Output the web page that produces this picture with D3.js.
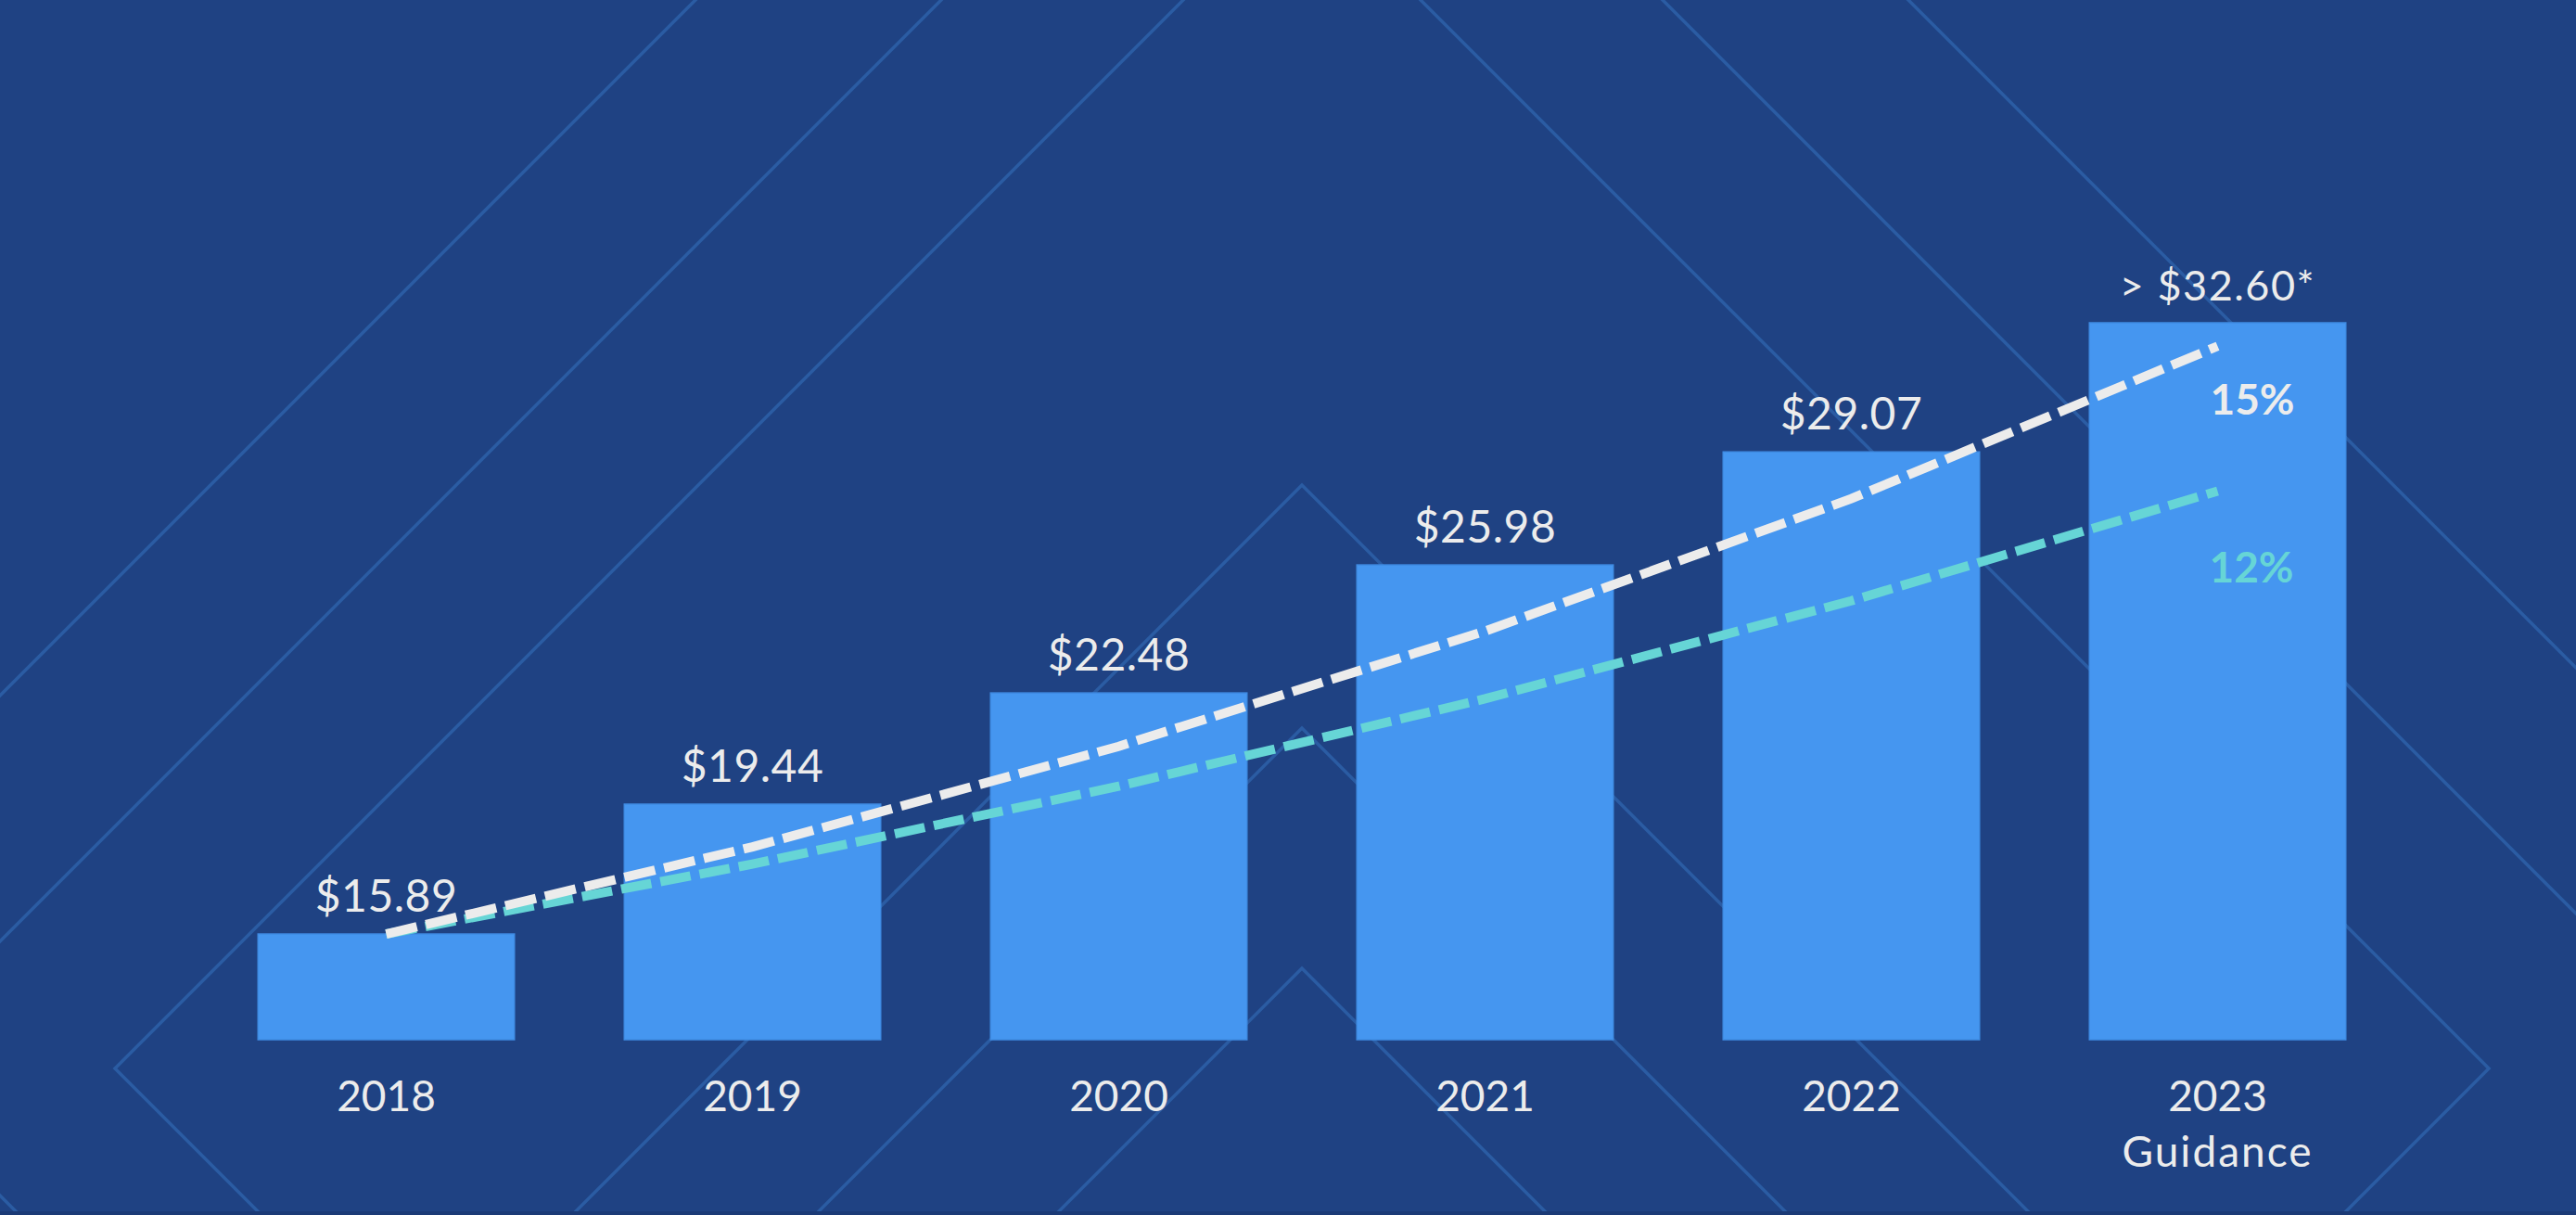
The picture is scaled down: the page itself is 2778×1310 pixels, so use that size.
<!DOCTYPE html>
<html>
<head>
<meta charset="utf-8">
<script src="https://cdn.jsdelivr.net/npm/d3@7"></script>
<style>
  body { margin: 0; background: #1f4283; }
  text { font-family: Lato, "Open Sans", sans-serif; }
</style>
</head>
<body>
<svg id="chart"></svg>
<script>
// data
const years = ["2018", "2019", "2020", "2021", "2022", "2023"];
const yearSub = ["", "", "", "", "", "Guidance"];
const eps = [15.89, 19.44, 22.48, 25.98, 29.07, 32.60];
const epsLabels = ["$15.89", "$19.44", "$22.48", "$25.98", "$29.07", "> $32.60*"];
const trend15 = [15.89, 18.27, 21.02, 24.17, 27.79, 31.96];
const trend12 = [15.89, 17.80, 19.93, 22.32, 25.00, 28.00];
const trendNames = ["15%", "12%"];

const width = 2778;
const height = 1310;
const bottom = 1121;

const svg = d3.select("#chart")
  .attr("width", width)
  .attr("height", height);

svg.append("rect")
  .attr("width", width)
  .attr("height", height)
  .attr("fill", "#1f4283");

// background decoration: diamonds and chevrons
const deco = svg.append("g")
  .attr("fill", "none")
  .attr("stroke", "#2b5ca3")
  .attr("stroke-width", 3.5);

const cx = 1404, cy = 1152;
[1280, 1541, 1806].forEach(r => {
  deco.append("path")
    .attr("d", `M${cx - r},${cy} L${cx},${cy - r} L${cx + r},${cy} L${cx},${cy + r} Z`);
});
[523, 785, 1044].forEach(py => {
  const d = height + 10 - py;
  deco.append("path")
    .attr("d", `M${cx - d},${py + d} L${cx},${py} L${cx + d},${py + d}`);
});

const xScale = d3.scaleBand()
  .domain(years)
  .range([219, 2589])
  .paddingInner(0.3)
  .paddingOuter(0.15);

const yScale = d3.scaleLinear()
  .domain([13, 32.6])
  .range([bottom, 348]);

const cxOf = i => xScale(years[i]) + xScale.bandwidth() / 2;

svg.selectAll("rect.bar")
  .data(eps)
  .enter()
  .append("rect")
  .attr("class", "bar")
  .attr("x", (d, i) => xScale(years[i]))
  .attr("y", d => yScale(d))
  .attr("width", xScale.bandwidth())
  .attr("height", d => bottom - yScale(d))
  .attr("fill", "#4596f0")
  .attr("stroke", "#3f8ce4")
  .attr("stroke-width", 1.5);

// value labels
svg.selectAll("text.val")
  .data(eps)
  .enter()
  .append("text")
  .attr("class", "val")
  .attr("x", (d, i) => cxOf(i))
  .attr("y", d => yScale(d) - 24)
  .attr("text-anchor", "middle")
  .attr("fill", "#ececec")
  .attr("font-size", (d, i) => i === eps.length - 1 ? 45 : 48)
  .attr("letter-spacing", (d, i) => i === eps.length - 1 ? 1.5 : 0.5)
  .text((d, i) => epsLabels[i]);

// year labels
const yl = svg.selectAll("text.year")
  .data(years)
  .enter()
  .append("text")
  .attr("class", "year")
  .attr("text-anchor", "middle")
  .attr("fill", "#ececec")
  .attr("font-size", 46);
yl.append("tspan")
  .attr("x", (d, i) => cxOf(i))
  .attr("y", 1198)
  .text(d => d);
yl.append("tspan")
  .attr("x", (d, i) => cxOf(i))
  .attr("y", 1258)
  .attr("letter-spacing", 2)
  .text((d, i) => yearSub[i]);

// trend lines
const line = d3.line()
  .x((d, i) => cxOf(i))
  .y(d => yScale(d));

svg.append("path")
  .datum(trend12)
  .attr("d", line)
  .attr("fill", "none")
  .attr("stroke", "#66d5d6")
  .attr("stroke-width", 10)
  .attr("stroke-dasharray", "33 10");

svg.append("path")
  .datum(trend15)
  .attr("d", line)
  .attr("fill", "none")
  .attr("stroke", "#ececec")
  .attr("stroke-width", 10)
  .attr("stroke-dasharray", "34 10");

const last = years.length - 1;
svg.append("text")
  .attr("x", cxOf(last) - 8)
  .attr("y", yScale(trend15[last]) + 74)
  .attr("fill", "#ececec")
  .attr("font-size", 46)
  .attr("font-weight", "bold")
  .text(trendNames[0]);

svg.append("text")
  .attr("x", cxOf(last) - 9)
  .attr("y", yScale(trend12[last]) + 99)
  .attr("fill", "#66d5d6")
  .attr("font-size", 46)
  .attr("font-weight", "bold")
  .text(trendNames[1]);

svg.append("rect")
  .attr("y", height - 4)
  .attr("width", width)
  .attr("height", 4)
  .attr("fill", "#1b3a76");
</script>
</body>
</html>
